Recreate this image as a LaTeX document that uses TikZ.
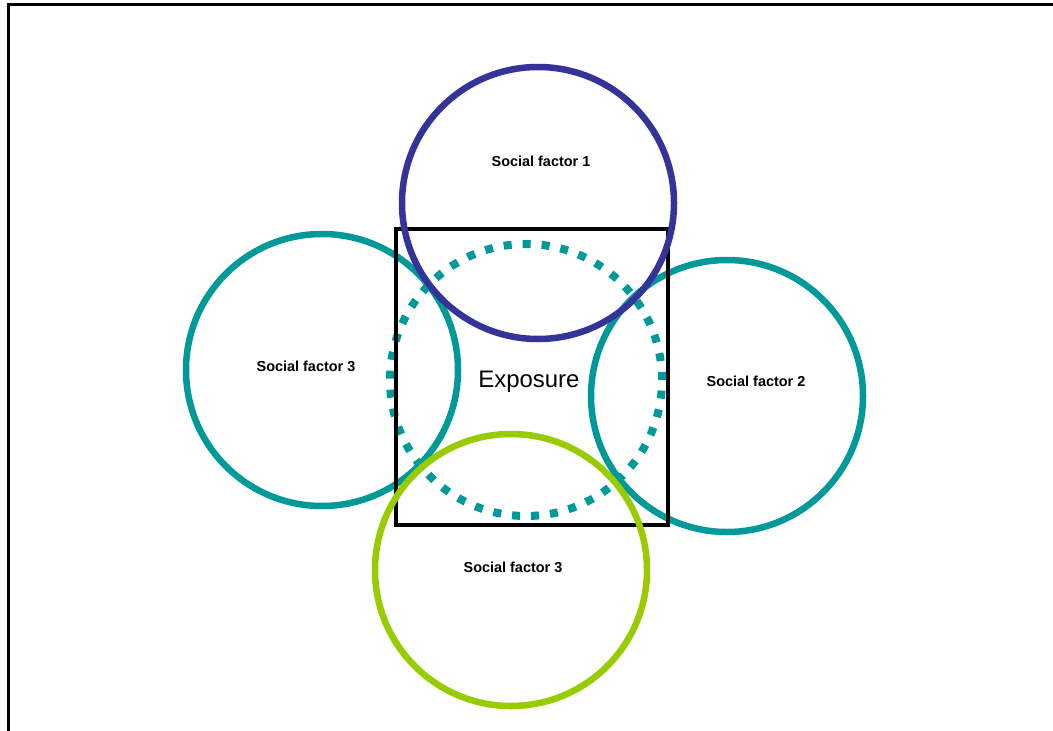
\documentclass[tikz,border=0pt]{standalone}
\usepackage{fontspec}
\setmainfont{Liberation Sans}
\usepackage{xcolor}
\usepackage{tikz}
\usetikzlibrary{positioning}

\definecolor{factorblue}{RGB}{51,51,153}
\definecolor{factorteal}{RGB}{0,153,153}
\definecolor{factorgreen}{RGB}{153,204,0}

\begin{document}
\begin{tikzpicture}[x=1bp, y=-1bp,
  ring/.style={draw=#1, circle, line width=6.5bp, minimum size=272bp, inner sep=0pt},
  dotring/.style={draw=factorteal, circle, line width=8bp, dash pattern=on 8bp off 11bp, minimum size=272bp, inner sep=0pt},
  frame/.style={draw, line width=4bp, minimum width=272bp, minimum height=296bp, inner sep=0pt},
  factor/.style={font=\fontsize{14.5}{16}\selectfont\bfseries, inner sep=0pt},
  expo/.style={font=\fontsize{24}{28}\selectfont, inner sep=0pt}
]
\useasboundingbox (0,0) rectangle (1053,731);
\draw[line width=3bp] (8,731) -- (8,5) -- (1053,5);

\node[dotring] (exring) at (526,380) {};
\node[ring=factorteal] (sf3a) at (322,370) {};
\node[ring=factorteal] (sf2) at (727,396) {};
\node[frame] (expbox) at (532,377) {};
\node[ring=factorblue] (sf1) at (538,203) {};
\node[ring=factorgreen] (sf3b) at (511,570) {};

\node[factor] (sf1lbl) at (541,161) {Social factor 1};
\node[factor] (sf3albl) at (306,366) {Social factor 3};
\node[factor] (sf2lbl) at (756,381) {Social factor 2};
\node[factor] (sf3blbl) at (513,567) {Social factor 3};
\node[expo] (explbl) at (529,382) {Exposure};

\end{tikzpicture}
\end{document}
